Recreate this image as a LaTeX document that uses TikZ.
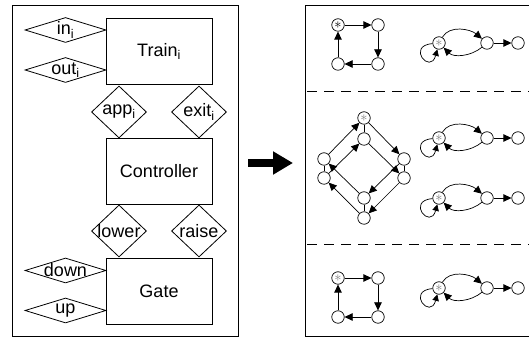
\documentclass[tikz,border=0pt]{standalone}
\usepackage{fontspec}
\setmainfont{Liberation Sans}
\usetikzlibrary{shapes.geometric,arrows.meta}
\newcommand{\ix}[1]{#1\textsubscript{i}}
\begin{document}
\begin{tikzpicture}[x=1pt,y=1pt,
  box/.style={draw, line width=0.8pt, minimum width=106pt, minimum height=66pt, inner sep=0pt, font=\fontsize{18}{18}\selectfont},
  port/.style={draw, diamond, line width=0.8pt, inner sep=0pt,
    label={[font=\fontsize{18}{18}\selectfont, inner sep=0pt]center:#1}},
  sport/.style={port=#1, minimum width=81pt, minimum height=25pt},
  bport/.style={port=#1, minimum width=55pt, minimum height=52pt},
  st/.style={draw, circle, fill=white, line width=0.7pt, minimum size=12.5pt, inner sep=0pt},
  ast/.style={st, text=gray, font=\fontsize{15}{15}\selectfont},
  astb/.style={st, text=black, font=\fontsize{15}{15}\selectfont},
  arr/.style={-{Triangle[length=8pt,width=7.5pt]}, line width=0.7pt},
  ln/.style={line width=0.7pt},
  panel/.style={draw, line width=0.8pt},
  sep/.style={line width=0.8pt, dash pattern=on 10pt off 7pt},
  upper/.style={arr, out=60, in=140, looseness=0.95},
  lowerarc/.style={arr, out=-140, in=-45, looseness=0.95},
  selfloop/.style={-{Triangle[length=6.5pt,width=6.5pt]}, line width=0.7pt, out=185, in=255, looseness=9}
]
\useasboundingbox (0,0) rectangle (529,344);
% panels
\draw[panel] (12,8) rectangle (238,339);
\draw[panel] (532,8) -- (305,8) -- (305,339) -- (532,339);
\coordinate (s1a) at (307,253); \coordinate (s1b) at (529,253);
\coordinate (s2a) at (307,100); \coordinate (s2b) at (529,100);
\draw[sep] (s1a) -- (s1b);
\draw[sep] (s2a) -- (s2b);

% left panel
\node[box] (train) at (159,292.5) {\ix{Train}};
\node[box] (ctrl) at (159,173) {Controller};
\node[box] (gate) at (159,53) {Gate};
\node[sport={\ix{in}}] (in) at (65.5,314) {};
\node[sport={\ix{out}}] (out) at (65.5,274) {};
\node[sport=down] (down) at (65.5,73.5) {};
\node[sport=up] (up) at (65.5,33.5) {};
\node[bport={\ix{app}}] (app) at (119,232) {};
\node[bport={\ix{exit}}] (exit) at (199,232) {};
\node[bport=lower] (lower) at (119,113) {};
\node[bport=raise] (raise) at (199,113) {};

% big arrow
\coordinate (ba) at (248,181); \coordinate (bb) at (293,181);
\draw[line width=8pt, -{Triangle[length=20pt,width=22pt]}] (ba) -- (bb);

% top section: square
\node[astb] (a0) at (338,319) {$\ast$};
\node[st] (a1) at (378,319) {};
\node[st] (a2) at (378,280) {};
\node[st] (a3) at (338,280) {};
\draw[arr] (a0) -- (a1);
\draw[arr] (a1) -- (a2);
\draw[arr] (a2) -- (a3);
\draw[arr] (a3) -- (a0);
% top section: loop graph
\node[ast] (b0) at (439,301) {$\ast$};
\node[st] (b1) at (487,301) {};
\node[st] (b2) at (518,301) {};
\draw[upper] (b0) to (b1);
\draw[lowerarc] (b1) to (b0);
\draw[selfloop] (b0) to (b0);
\draw[arr] (b1) -- (b2);

% middle section: diamond graph
\node[ast] (d0) at (364,226) {$\ast$};
\node[st] (d1) at (364,205) {};
\node[st] (lu) at (324,185) {};
\node[st] (ll) at (324,166) {};
\node[st] (ru) at (404,185) {};
\node[st] (rl) at (404,166) {};
\node[st] (bu) at (364,146) {};
\node[st] (bl) at (364,126) {};
\draw[ln] (d0) -- (d1);
\draw[ln] (lu) -- (ll);
\draw[ln] (ru) -- (rl);
\draw[ln] (bu) -- (bl);
\draw[arr] (lu) -- (d0);
\draw[arr] (d0) -- (ru);
\draw[arr] (rl) -- (bl);
\draw[arr] (bl) -- (ll);
\draw[arr] (ll) -- (d1);
\draw[arr] (d1) -- (rl);
\draw[arr] (ru) -- (bu);
\draw[arr] (bu) -- (lu);
% middle section: loop graphs
\node[ast] (c0) at (439,206) {$\ast$};
\node[st] (c1) at (487,206) {};
\node[st] (c2) at (518,206) {};
\draw[upper] (c0) to (c1);
\draw[lowerarc] (c1) to (c0);
\draw[selfloop] (c0) to (c0);
\draw[arr] (c1) -- (c2);
\node[ast] (e0) at (439,146) {$\ast$};
\node[st] (e1) at (487,146) {};
\node[st] (e2) at (518,146) {};
\draw[upper] (e0) to (e1);
\draw[lowerarc] (e1) to (e0);
\draw[selfloop] (e0) to (e0);
\draw[arr] (e1) -- (e2);

% bottom section: square
\node[ast] (f0) at (338,66) {$\ast$};
\node[st] (f1) at (378,66) {};
\node[st] (f2) at (378,27) {};
\node[st] (f3) at (338,27) {};
\draw[arr] (f0) -- (f1);
\draw[arr] (f1) -- (f2);
\draw[arr] (f2) -- (f3);
\draw[arr] (f3) -- (f0);
% bottom section: loop graph
\node[ast] (g0) at (439,56) {$\ast$};
\node[st] (g1) at (487,56) {};
\node[st] (g2) at (518,56) {};
\draw[upper] (g0) to (g1);
\draw[lowerarc] (g1) to (g0);
\draw[selfloop] (g0) to (g0);
\draw[arr] (g1) -- (g2);
\end{tikzpicture}
\end{document}
